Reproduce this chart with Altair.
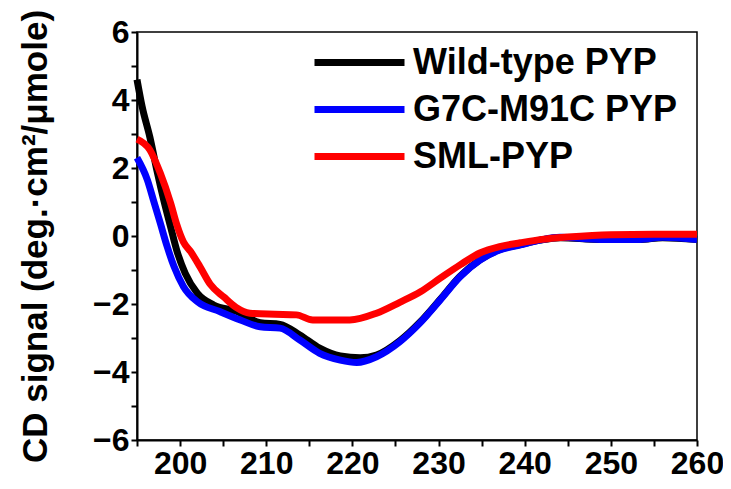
import altair as alt
import pandas as pd

series_names = ["Wild-type PYP", "G7C-M91C PYP", "SML-PYP"]
series_colors = ["#000000", "#0000ff", "#ff0000"]

wt_x = [195, 195.6, 196.5, 197.3, 198.1, 198.9, 199.6, 200.6, 202, 203.9, 206.6, 209.3,
        211.6, 213.9, 216.2, 218.6, 220.9, 222.8, 225.5, 227.9, 230.2, 232.5, 234.8,
        237.1, 239.5, 241.8, 244.1, 248.7, 253.4, 256, 260]
wt_y = [4.6, 3.8, 2.9, 1.94, 1.06, 0.27, -0.41, -1.1, -1.68, -2.03, -2.22, -2.55,
        -2.6, -2.91, -3.3, -3.53, -3.58, -3.5, -3.08, -2.52, -1.86, -1.18, -0.7,
        -0.4, -0.25, -0.12, -0.05, -0.1, -0.1, -0.05, -0.1]

g7_x = [195, 196.2, 196.9, 197.7, 198.5, 199.3, 200.4, 202, 204.6, 207, 209.3, 211.6,
        213.9, 216.2, 218.6, 220.5, 222.8, 225.5, 227.8, 230.2, 232.5, 234.8, 237.1,
        239.5, 241.8, 244.1, 248.7, 253.4, 256, 260]
g7_y = [2.3, 1.65, 1.06, 0.38, -0.31, -0.9, -1.49, -1.93, -2.22, -2.47, -2.67, -2.71,
        -3.06, -3.45, -3.65, -3.72, -3.55, -3.11, -2.57, -1.88, -1.2, -0.71, -0.41,
        -0.26, -0.12, -0.04, -0.1, -0.1, -0.04, -0.1]

sml_x = [195, 196.5, 197.7, 198.9, 199.6, 200.4, 201.2, 202.3, 203.5, 205.1, 206.5, 208.1, 211,
         213.5, 215.4, 219.7, 222.8, 225.5, 227.9, 230.2, 232.5, 234.8, 237.1, 239.5,
         242, 245, 250, 255, 260]
sml_y = [2.85, 2.53, 1.85, 0.97, 0.35, -0.18, -0.45, -0.9, -1.42, -1.8, -2.1, -2.27, -2.3,
         -2.32, -2.47, -2.47, -2.27, -1.95, -1.64, -1.24, -0.85, -0.5, -0.31, -0.2,
         -0.1, -0.03, 0.04, 0.05, 0.05]

x_ticks = list(range(195, 261, 5))
y_ticks = list(range(-6, 7, 1))

rows = []
for name, xs, ys in zip(series_names, [wt_x, g7_x, sml_x], [wt_y, g7_y, sml_y]):
    for i, (a, b) in enumerate(zip(xs, ys)):
        rows.append({"series": name, "wl": a, "cd": b, "idx": i})
df = pd.DataFrame(rows)

FONT = "Liberation Sans"

chart = alt.Chart(df).mark_line(strokeWidth=7, interpolate="monotone").encode(
    x=alt.X("wl:Q",
            scale=alt.Scale(domain=[195, 260], nice=False, zero=False),
            axis=alt.Axis(values=x_ticks, title=None,
                          labelExpr="datum.value % 10 == 0 ? datum.label : ''")),
    y=alt.Y("cd:Q",
            scale=alt.Scale(domain=[-6, 6], nice=False, zero=False),
            axis=alt.Axis(values=y_ticks, title="CD signal (deg.·cm²/μmole)",
                          labelExpr="datum.value % 2 == 0 ? datum.label : ''")),
    color=alt.Color("series:N",
                    scale=alt.Scale(domain=series_names, range=series_colors),
                    sort=series_names,
                    legend=alt.Legend(title=None, orient="none", legendX=237, legendY=12,
                                      symbolType="M-5.2,0H0.8", symbolSize=900,
                                      symbolStrokeWidth=7, labelFont=FONT,
                                      labelFontSize=36, labelFontWeight="bold",
                                      labelColor="black", rowPadding=10,
                                      labelOffset=2, labelLimit=400)),
    order=alt.Order("idx:Q"),
).properties(
    width=560, height=408,
    autosize=alt.AutoSizeParams(type="none"),
    padding={"left": 129, "top": 24, "right": 26, "bottom": 41},
).configure_view(
    stroke="black", strokeWidth=1.5
).configure_axis(
    grid=False, domainColor="black", domainWidth=2, tickColor="black", tickWidth=2,
    tickSize=6, labelFont=FONT, labelFontSize=32, labelFontWeight="bold",
    labelColor="black", labelFlush=False, labelOverlap=False, labelPadding=2,
    titleFont=FONT, titleFontSize=35, titleFontWeight="bold", titleColor="black",
    titlePadding=39,
)

chart.save("out.html", embed_options={"renderer": "svg", "actions": False})
